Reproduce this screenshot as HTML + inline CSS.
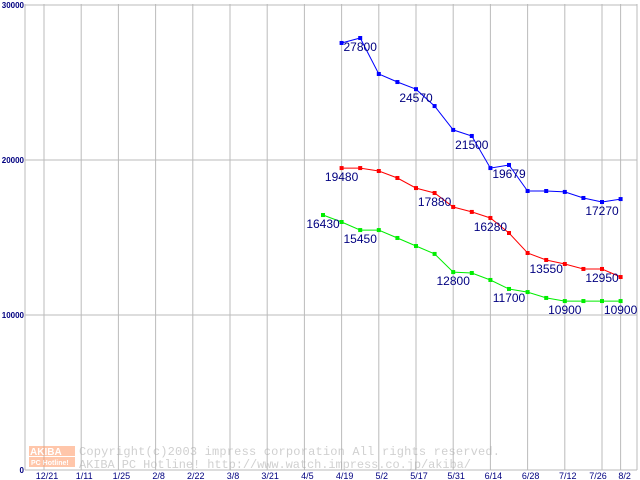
<!DOCTYPE html>
<html><head><meta charset="utf-8"><style>
body{margin:0;background:#fff;}
svg{display:block;font-family:"Liberation Sans",sans-serif;}
</style></head><body>
<svg id="chart" width="640" height="480" viewBox="0 0 640 480" xmlns="http://www.w3.org/2000/svg">
<rect x="0" y="0" width="640" height="480" fill="#fff"/>
<g id="grid"></g>
<g id="watermark" opacity="0.55">
  <rect x="29" y="446" width="46" height="10" fill="#ff9966"/>
  <text x="30" y="455" font-size="10" fill="#fff" font-weight="bold">AKIBA</text>
  <rect x="29" y="457" width="46" height="10" fill="#ff9966"/>
  <text x="31" y="465" font-size="7" fill="#fff" font-weight="bold">PC Hotline!</text>
  <text x="79" y="455" font-size="12" fill="#aaa" font-family="Liberation Mono, monospace" textLength="421">Copyright(c)2003 impress corporation All rights reserved.</text>
  <text x="79" y="468" font-size="12" fill="#aaa" font-family="Liberation Mono, monospace" textLength="392">AKIBA PC Hotline!  http://www.watch.impress.co.jp/akiba/</text>
</g>
<g id="series"></g>
<g id="labels"></g>
</svg>
<script>
const tickLabels = ["12/21","1/11","1/25","2/8","2/22","3/8","3/21","4/5","4/19","5/2","5/17","5/31","6/14","6/28","7/12","7/26","8/2"];
const tickWeeks = [0,2,4,6,8,10,12,14,16,18,20,22,24,26,28,30,31];
const yTicks = [0,10000,20000,30000];
const blueStart = 16;
const blueValues = [27550,27870,25550,25030,24570,23480,21940,21550,19480,19680,18000,18000,17940,17550,17290,17480];
const redStart = 16;
const redValues = [19480,19480,19290,18840,18190,17870,16970,16650,16260,15290,14000,13550,13290,12970,12970,12450];
const greenStart = 15;
const greenValues = [16450,16000,15480,15480,14970,14450,13940,12770,12710,12260,11680,11480,11100,10900,10900,10900,10900];
const blueLabels = [[1,"27800"],[4,"24570"],[7,"21500"],[9,"19679"],[14,"17270"]];
const redLabels = [[0,"19480"],[5,"17880"],[8,"16280"],[11,"13550"],[14,"12950"]];
const greenLabels = [[0,"16430"],[2,"15450"],[7,"12800"],[10,"11700"],[13,"10900"],[16,"10900"]];

const NS="http://www.w3.org/2000/svg";
function xS(w){return 44 + w*18.6;}
function yS(v){return 470 - v*0.01550;}
function mk(tag,attrs,parent){const e=document.createElementNS(NS,tag);for(const k in attrs)e.setAttribute(k,attrs[k]);parent.appendChild(e);return e;}
const grid=document.getElementById('grid');
mk('line',{x1:25,y1:4,x2:25,y2:470,stroke:'#bbb'},grid);
mk('line',{x1:637,y1:4,x2:637,y2:470,stroke:'#bbb'},grid);
yTicks.forEach(v=>{
  const l=mk('line',{x1:25,y1:yS(v),x2:637,y2:yS(v),stroke:'#bbb'},grid);
  
  
  const t=mk('text',{x:24,y:yS(v)+3,'font-size':8,'font-weight':'bold',fill:'#000080','text-anchor':'end'},grid);
  t.textContent=String(v);
  
  
});
tickWeeks.forEach((w,i)=>{
  const x=xS(w);
  const l=mk('line',{x1:x,y1:4,x2:x,y2:470,stroke:'#bbb'},grid);
  
  
  const t=mk('text',{x:x+ (i==15?-4:(i==16?4:3)),y:479,'font-size':9,fill:'#000080','text-anchor':'middle'},grid);
  t.textContent=tickLabels[i];
  
  
});
const sg=document.getElementById('series'), lg=document.getElementById('labels');
function drawSeries(name,start,vals,color,labels){
  const g=mk('g',{},sg);
  
  
  const pts=vals.map((v,i)=>xS(start+i).toFixed(1)+','+yS(v).toFixed(1)).join(' ');
  const pl=mk('polyline',{points:pts,fill:'none',stroke:color,'stroke-width':1},g);
  
  
  vals.forEach((v,i)=>{
    const r=mk('rect',{x:xS(start+i)-2,y:yS(v)-2,width:4,height:4,fill:color},g);
    
    
  });
  labels.forEach(([i,txt])=>{
    const t=mk('text',{x:xS(start+i),y:yS(vals[i])+13,'font-size':12,fill:'#000080','text-anchor':'middle'},lg);
    t.textContent=txt;
    
    
  });
}
drawSeries('blue',blueStart,blueValues,'#0000ff',blueLabels);
drawSeries('red',redStart,redValues,'#ff0000',redLabels);
drawSeries('green',greenStart,greenValues,'#00ee00',greenLabels);
</script>
</body></html>
